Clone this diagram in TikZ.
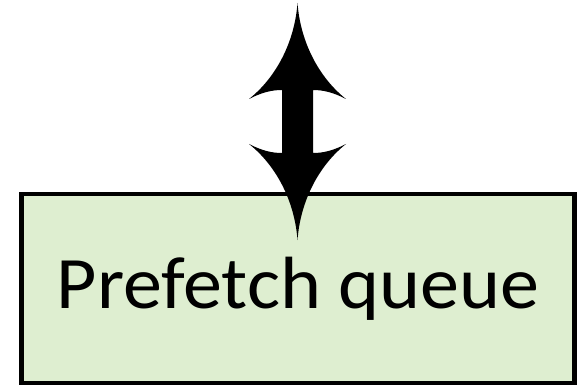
\documentclass[tikz,border=0pt]{standalone}
\usepackage{fontspec}
\setmainfont{Carlito}
\newfontfamily\queuefont[FakeStretch=1.055]{Carlito}
\definecolor{queuefill}{RGB}{222,238,208}
\tikzset{
  queuebox/.style={draw=black, fill=queuefill, line width=4.5pt, inner sep=0pt, outer sep=0pt,
    font=\queuefont\fontsize{74}{80}\selectfont},
  dblarrow/.style={fill=black}
}
\begin{document}
\begin{tikzpicture}[x=1pt, y=-1pt]
  \useasboundingbox (0,0) rectangle (580,387);
  % the queue
  \node[queuebox, minimum width=553pt, minimum height=189pt] (queue) at (298,288.5)
    {\raisebox{-3pt}{Prefetch queue}};
  % free end of the two-way arrow
  \coordinate (top) at (297.5,3);
  % two-way arrow with curved heads, lower head reaching into the queue
  \begin{scope}[shift={(top)}]
    \fill[dblarrow] (0,0)
      .. controls (3,40) and (22,75) .. (48.5,96)
      .. controls (35,89) and (25,87) .. (15.5,87)
      -- (15.5,150)
      .. controls (25,150) and (35,148) .. (48.5,141)
      .. controls (22,162) and (3,197) .. (0,237)
      .. controls (-3,197) and (-22,162) .. (-48.5,141)
      .. controls (-35,148) and (-25,150) .. (-15.5,150)
      -- (-15.5,87)
      .. controls (-25,87) and (-35,89) .. (-48.5,96)
      .. controls (-22,75) and (-3,40) .. (0,0) -- cycle;
  \end{scope}
\end{tikzpicture}
\end{document}
